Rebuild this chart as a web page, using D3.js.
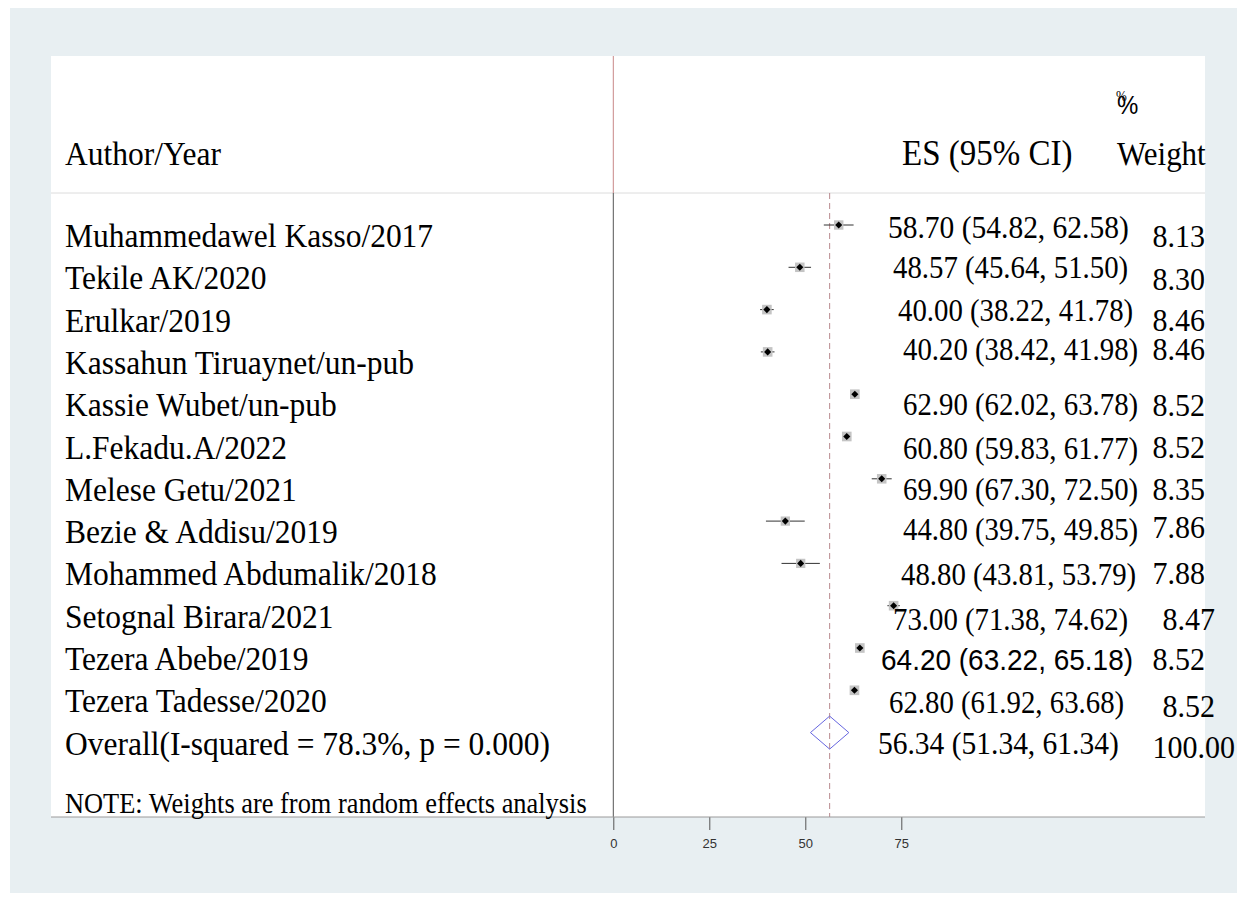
<!DOCTYPE html>
<html>
<head>
<meta charset="utf-8">
<script src="https://cdn.jsdelivr.net/npm/d3@7"></script>
<style>
  html, body { margin: 0; padding: 0; background: #ffffff; }
  svg { display: block; }
</style>
</head>
<body>
<svg id="chart" width="1250" height="901"></svg>
<script>
// Study-level estimates (prevalence %, 95% CI) and random-effects weights
const studies = [
  "Muhammedawel Kasso/2017",
  "Tekile AK/2020",
  "Erulkar/2019",
  "Kassahun Tiruaynet/un-pub",
  "Kassie Wubet/un-pub",
  "L.Fekadu.A/2022",
  "Melese Getu/2021",
  "Bezie & Addisu/2019",
  "Mohammed Abdumalik/2018",
  "Setognal Birara/2021",
  "Tezera Abebe/2019",
  "Tezera Tadesse/2020"
];
const es    = [58.70, 48.57, 40.00, 40.20, 62.90, 60.80, 69.90, 44.80, 48.80, 73.00, 64.20, 62.80];
const lower = [54.82, 45.64, 38.22, 38.42, 62.02, 59.83, 67.30, 39.75, 43.81, 71.38, 63.22, 61.92];
const upper = [62.58, 51.50, 41.78, 41.98, 63.78, 61.77, 72.50, 49.85, 53.79, 74.62, 65.18, 63.68];
const weight = ["8.13", "8.30", "8.46", "8.46", "8.52", "8.52", "8.35", "7.86", "7.88", "8.47", "8.52", "8.52"];

// Pooled estimate
const overallLabel = "Overall(I-squared = 78.3%, p = 0.000)";
const overallES = 56.34, overallLower = 51.34, overallUpper = 61.34;
const overallWeight = "100.00";

const tickValues = [0, 25, 50, 75];
const noteText = "NOTE: Weights are from random effects analysis";

// ---- text placement tweaks per row (13 rows incl. overall) ----
const esNudgeX  = [-15, -10, -5, 0, 0, 0, 0, 0, -2, -10, -22, -14, -25];
const esNudgeY  = [3, 1, 1, -2, 11, 12, 11, 9, 12, 14, 12, 13, 11];
const wtEndX    = [1205, 1205, 1205, 1205, 1205, 1205, 1205, 1205, 1205, 1215, 1205, 1215, 1235];
const wtNudgeY  = [12, 13, 11, -2, 12, 11, 11, 7, 11, 14, 12, 17, 15];
const esSans    = [false, false, false, false, false, false, false, false, false, false, true, false, false];

const svg = d3.select("#chart");
const serif = "'Liberation Serif', 'Times New Roman', Times, serif";
const sans = "'Liberation Sans', Arial, Helvetica, sans-serif";
const tall = 1.08; // glyphs are drawn slightly taller than wide

// page frame
svg.append("rect").attr("x", 10).attr("y", 8).attr("width", 1227).attr("height", 885)
  .attr("fill", "#e8eff2");
const plot = { left: 51, top: 56, right: 1205, bottom: 817 };
svg.append("rect").attr("x", plot.left).attr("y", plot.top)
  .attr("width", plot.right - plot.left).attr("height", plot.bottom - plot.top)
  .attr("fill", "#ffffff");

const x = d3.scaleLinear().domain([0, 75]).range([613.3, 901.3]);
const rows = d3.range(studies.length + 1);
const y = d3.scalePoint().domain(rows).range([225, 732.6]);

function stext(g, tx, ty, str, opts = {}) {
  return g.append("text")
    .attr("transform", `translate(${tx},${ty}) scale(1,${opts.sy || tall})`)
    .attr("text-anchor", opts.anchor || "start")
    .attr("font-family", opts.family || serif)
    .attr("font-size", opts.size || 31.5)
    .attr("fill", opts.fill || "#000")
    .text(str);
}

// header separator
svg.append("line").attr("x1", plot.left).attr("x2", plot.right)
  .attr("y1", 193).attr("y2", 193).attr("stroke", "#dcdcdc").attr("stroke-width", 1);

// null line at 0: red above the header rule, grey below
svg.append("line").attr("x1", x(0)).attr("x2", x(0)).attr("y1", plot.top).attr("y2", 193)
  .attr("stroke", "#c98888").attr("stroke-width", 1);
svg.append("line").attr("x1", x(0)).attr("x2", x(0)).attr("y1", 193).attr("y2", plot.bottom)
  .attr("stroke", "#555").attr("stroke-width", 1);

// pooled-estimate reference line
svg.append("line").attr("x1", x(overallES)).attr("x2", x(overallES))
  .attr("y1", 193).attr("y2", plot.bottom)
  .attr("stroke", "#b98a8f").attr("stroke-width", 1).attr("stroke-dasharray", "6,4");

// x axis
const axisG = svg.append("g").attr("transform", `translate(0,${plot.bottom})`)
  .call(d3.axisBottom(x).tickValues(tickValues).tickSize(13).tickPadding(9).tickFormat(d3.format("d")));
axisG.select(".domain").remove();
axisG.selectAll(".tick line").attr("stroke", "#555");
axisG.selectAll(".tick text").attr("font-family", sans).attr("font-size", 13).attr("fill", "#333");
svg.append("line").attr("x1", plot.left).attr("x2", plot.right)
  .attr("y1", plot.bottom).attr("y2", plot.bottom).attr("stroke", "#9a9a9a").attr("stroke-width", 1);

// headers
stext(svg, 65, 165, "Author/Year");
stext(svg, 902, 165, "ES (95% CI)", { size: 33 });
stext(svg, 1117, 165, "Weight", { size: 31 });
stext(svg, 1117, 114, "%", { family: sans, size: 24 });
stext(svg, 1116, 101, "%", { family: serif, size: 13 });

// study rows
const g = svg.append("g");
studies.forEach((name, i) => {
  const yy = y(i);
  stext(g, 65, yy + 22, name);
  g.append("line").attr("x1", x(lower[i])).attr("x2", x(upper[i]))
    .attr("y1", yy).attr("y2", yy).attr("stroke", "#333").attr("stroke-width", 1);
  const s = Math.sqrt(+weight[i]) * 3.3;
  g.append("rect").attr("x", x(es[i]) - s / 2).attr("y", yy - s / 2)
    .attr("width", s).attr("height", s).attr("fill", "#c4c4c4");
  g.append("path").attr("d", d3.symbol(d3.symbolDiamond2, 32)())
    .attr("transform", `translate(${x(es[i])},${yy})`).attr("fill", "#000");
  const label = `${es[i].toFixed(2)} (${lower[i].toFixed(2)}, ${upper[i].toFixed(2)})`;
  stext(g, 903 + esNudgeX[i], yy + esNudgeY[i] + 10, label,
    esSans[i] ? { family: sans, size: 28 } : { size: i < 1 ? 29.5 : 28.8 });
  stext(g, wtEndX[i], yy + wtNudgeY[i] + 10, weight[i], { anchor: "end", size: 30 });
});

// overall row with diamond
const oi = studies.length, oy = y(oi);
stext(g, 65, oy + 22, overallLabel);
g.append("path")
  .attr("d", d3.line()([[x(overallLower), oy], [x(overallES), oy - 16.5],
    [x(overallUpper), oy], [x(overallES), oy + 16.5]]) + "Z")
  .attr("fill", "none").attr("stroke", "#6666e0").attr("stroke-width", 1);
stext(g, 903 + esNudgeX[oi], oy + esNudgeY[oi] + 10,
  `${overallES.toFixed(2)} (${overallLower.toFixed(2)}, ${overallUpper.toFixed(2)})`, { size: 29.5 });
stext(g, wtEndX[oi], oy + wtNudgeY[oi] + 10, overallWeight, { anchor: "end", size: 30 });

// footnote
stext(svg, 65, 813, noteText, { size: 26.4 });
</script>
</body>
</html>
